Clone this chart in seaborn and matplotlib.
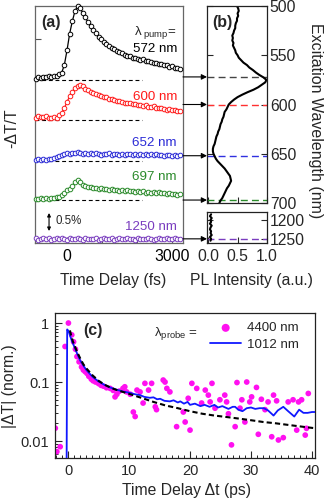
import numpy as np
import pandas as pd
import matplotlib
matplotlib.use("Agg")
import matplotlib.pyplot as plt
import seaborn as sns
from matplotlib.ticker import MultipleLocator, LogLocator, NullFormatter, FixedLocator

sns.set_style("ticks")
plt.rcParams["font.family"] = ["Liberation Sans", "DejaVu Sans"]
plt.rcParams["mathtext.fontset"] = "custom"
plt.rcParams["mathtext.rm"] = "Liberation Sans"
plt.rcParams["mathtext.it"] = "Liberation Sans:italic"
plt.rcParams["mathtext.bf"] = "Liberation Sans:bold"

# ---------------- data: panel (a) ----------------
time_fs = [-900, -825, -750, -675, -600, -525, -450, -375,
           -300, -225, -150, -75, 0, 75, 150, 225,
           300, 375, 450, 525, 600, 675, 750, 825,
           900, 975, 1050, 1125, 1200, 1275, 1350, 1425,
           1500, 1575, 1650, 1725, 1800, 1875, 1950, 2025,
           2100, 2175, 2250, 2325, 2400, 2475, 2550, 2625,
           2700, 2775, 2850, 2925, 3000, 3075, 3150, 3225]

dt_572 = [0.03, 0.07, 0.05, 0.09, 0.07, 0.11, 0.09, 0.12,
          0.11, 0.15, 0.20, 0.42, 0.82, 1.28, 1.62, 1.90,
          2.05, 2.00, 1.86, 1.74, 1.60, 1.50, 1.38, 1.30,
          1.20, 1.14, 1.06, 1.00, 0.95, 0.88, 0.86, 0.80,
          0.76, 0.74, 0.70, 0.66, 0.66, 0.60, 0.62, 0.58,
          0.55, 0.58, 0.52, 0.52, 0.49, 0.47, 0.47, 0.44,
          0.43, 0.41, 0.40, 0.37, 0.38, 0.34, 0.33, 0.31]
dt_600 = [0.06, 0.10, 0.08, 0.07, 0.10, 0.04, 0.05, 0.08,
          0.06, 0.12, 0.20, 0.33, 0.50, 0.65, 0.78, 0.88,
          0.95, 0.97, 0.93, 0.86, 0.82, 0.78, 0.74, 0.72,
          0.69, 0.66, 0.63, 0.62, 0.58, 0.57, 0.54, 0.52,
          0.52, 0.49, 0.48, 0.46, 0.47, 0.43, 0.44, 0.41,
          0.40, 0.38, 0.40, 0.36, 0.35, 0.37, 0.33, 0.32,
          0.34, 0.30, 0.28, 0.30, 0.26, 0.27, 0.24, 0.25]
dt_652 = [0.02, 0.04, 0.03, 0.05, 0.03, 0.06, 0.04, 0.07,
          0.10, 0.14, 0.17, 0.20, 0.22, 0.20, 0.23, 0.21,
          0.24, 0.22, 0.20, 0.23, 0.19, 0.21, 0.18, 0.21,
          0.19, 0.17, 0.20, 0.18, 0.21, 0.17, 0.19, 0.20,
          0.16, 0.19, 0.17, 0.20, 0.18, 0.16, 0.19, 0.17,
          0.20, 0.16, 0.18, 0.15, 0.18, 0.16, 0.19, 0.15,
          0.17, 0.14, 0.17, 0.15, 0.13, 0.16, 0.14, 0.17]
dt_697 = [0.03, 0.02, 0.05, 0.03, 0.06, 0.04, 0.07, 0.05,
          0.08, 0.10, 0.14, 0.20, 0.28, 0.32, 0.40, 0.50,
          0.56, 0.50, 0.42, 0.38, 0.36, 0.37, 0.33, 0.34,
          0.31, 0.33, 0.30, 0.31, 0.28, 0.30, 0.27, 0.29,
          0.26, 0.28, 0.25, 0.27, 0.24, 0.26, 0.23, 0.25,
          0.22, 0.24, 0.21, 0.23, 0.21, 0.22, 0.20, 0.22,
          0.19, 0.21, 0.18, 0.20, 0.17, 0.18, 0.15, 0.16]
dt_1250 = [0.02, -0.02, 0.01, 0.03, -0.01, 0.02, -0.02, 0.01,
           0.03, -0.01, 0.02, 0.00, -0.02, 0.02, 0.01, -0.01,
           0.03, 0.00, -0.02, 0.02, 0.01, -0.01, 0.00, 0.02,
           -0.02, 0.01, 0.03, -0.01, 0.00, 0.02, -0.02, 0.01,
           0.02, -0.01, 0.00, 0.03, -0.01, 0.01, -0.02, 0.02,
           0.00, 0.01, -0.01, 0.03, 0.00, -0.02, 0.01, 0.02,
           -0.01, 0.00, 0.02, -0.01, 0.01, 0.03, 0.00, 0.01]

pump_wl = [572, 600, 652, 697, 1250]
pump_labels = ["572 nm", "600 nm", "652 nm", "697 nm", "1250 nm"]

# ---------------- data: panel (b) ----------------
pl_wl = [500, 502.5, 505, 507.5, 510, 512.5, 515, 517.5, 520, 522.5,
         525, 527.5, 530, 532.5, 535, 537.5, 540, 542.5, 545, 547.5,
         550, 552.5, 555, 557.5, 560, 562.5, 565, 567.5, 570, 572.5,
         575, 577.5, 580, 582.5, 585, 587.5, 590, 592.5, 595, 597.5,
         600, 602.5, 605, 607.5, 610, 612.5, 615, 617.5, 620, 622.5,
         625, 627.5, 630, 632.5, 635, 637.5, 640, 642.5, 645, 647.5,
         650, 652.5, 655, 657.5, 660, 662.5, 665, 667.5, 670, 672.5,
         675, 677.5, 680, 682.5, 685, 687.5, 690, 692.5, 695, 697.5, 700]
pl_int = [0.49, 0.51, 0.52, 0.50, 0.51, 0.49, 0.49, 0.47, 0.46, 0.46,
          0.44, 0.43, 0.41, 0.42, 0.41, 0.43, 0.42, 0.44, 0.46, 0.47,
          0.50, 0.52, 0.56, 0.60, 0.66, 0.70, 0.76, 0.81, 0.87, 0.94,
          0.99, 0.97, 0.91, 0.85, 0.77, 0.67, 0.58, 0.50, 0.44, 0.39,
          0.35, 0.33, 0.31, 0.28, 0.27, 0.26, 0.24, 0.23, 0.21, 0.20,
          0.19, 0.17, 0.16, 0.14, 0.13, 0.12, 0.11, 0.09, 0.08, 0.08,
          0.09, 0.11, 0.13, 0.16, 0.20, 0.24, 0.28, 0.31, 0.34, 0.37,
          0.38, 0.39, 0.37, 0.35, 0.32, 0.30, 0.28, 0.26, 0.24, 0.21, 0.19]
pl_wl_ir = [1185, 1190, 1195, 1200, 1205, 1210, 1215, 1220, 1225, 1230, 1235,
            1240, 1245, 1250, 1255]
pl_int_ir = [0.05, 0.03, 0.06, 0.04, 0.05, 0.03, 0.06, 0.04, 0.03, 0.05, 0.04,
             0.06, 0.03, 0.05, 0.04]

# ---------------- data: panel (c) ----------------
mag_t = [-2.1, -1.85, -1.3, -0.5, 0.05, 0.6, 0.9, 1.2, 1.45, 1.8, 2.2, 2.5, 2.8,
         3.1, 3.4, 3.8, 4.1, 4.5, 5.0, 5.4, 5.8, 6.3, 6.9, 7.4, 7.7, 8.0, 8.4,
         9.0, 9.3, 9.6, 10.2, 10.7, 11.0, 11.3, 11.8, 12.3, 12.6, 13.2, 13.7,
         14.3, 14.5, 15.6, 15.9, 16.2, 16.7, 17.8, 18.9, 19.2, 19.7, 20.0, 20.3,
         21.1, 21.9, 22.5, 23.0, 23.3, 23.6, 24.1, 24.9, 25.7, 26.0, 26.3, 26.8,
         27.4, 27.7, 28.2, 28.5, 29.0, 29.3, 29.8, 30.1, 30.9, 31.2, 31.7, 32.3,
         32.8, 33.4, 33.7, 34.2, 34.5, 35.3, 36.1, 36.9, 37.5, 37.8, 38.3, 38.9,
         39.1, 39.4]
mag_v = [0.0165, 0.0066, 0.008, 0.40, 1.0, 0.63, 0.48, 0.36, 0.27, 0.22, 0.18,
         0.16, 0.15, 0.14, 0.125, 0.112, 0.105, 0.10, 0.094, 0.088, 0.085, 0.080,
         0.078, 0.072, 0.056, 0.062, 0.070, 0.078, 0.083, 0.068, 0.062, 0.031,
         0.026, 0.073, 0.068, 0.044, 0.095, 0.073, 0.095, 0.038, 0.034, 0.108,
         0.10, 0.078, 0.068, 0.0175, 0.031, 0.021, 0.053, 0.0153, 0.095, 0.078,
         0.044, 0.073, 0.060, 0.046, 0.095, 0.036, 0.050, 0.060, 0.046, 0.029,
         0.0086, 0.0175, 0.098, 0.036, 0.050, 0.021, 0.10, 0.046, 0.056, 0.081,
         0.013, 0.051, 0.034, 0.046, 0.0118, 0.060, 0.048, 0.0104, 0.0114, 0.046,
         0.050, 0.0153, 0.046, 0.050, 0.0126, 0.0164, 0.064]

blue_t = [-0.25, -0.15, 0.1, 0.3, 0.6, 1.0, 1.5, 2.0, 2.5, 3.0, 3.5, 4.0, 5.0,
          6.0, 7.0, 8.0, 9.0, 10.0, 11.0, 11.8, 12.5, 13.4, 14.0, 14.6, 15.1,
          15.8, 16.7, 17.3, 18.0, 18.4, 19.0, 19.6, 20.0, 20.8, 21.7, 22.4, 23.2,
          24.0, 24.6, 25.3, 26.3, 27.0, 27.4, 27.9, 28.6, 29.3, 30.0, 30.7, 31.4,
          32.1, 32.8, 33.7, 34.4, 35.3, 36.1, 37.1, 37.9, 38.6, 39.3, 40.0, 40.6]
blue_v = [0.003, 0.78, 0.72, 0.62, 0.50, 0.40, 0.30, 0.23, 0.19, 0.16, 0.14,
          0.123, 0.102, 0.089, 0.080, 0.074, 0.069, 0.066, 0.062, 0.060, 0.056,
          0.054, 0.055, 0.051, 0.052, 0.048, 0.047, 0.049, 0.045, 0.047, 0.043,
          0.046, 0.041, 0.043, 0.039, 0.041, 0.038, 0.041, 0.037, 0.039, 0.035,
          0.038, 0.038, 0.034, 0.032, 0.036, 0.037, 0.035, 0.036, 0.036, 0.033,
          0.027, 0.033, 0.038, 0.032, 0.026, 0.034, 0.030, 0.030, 0.031, 0.031]

fit_t = [0.3, 0.5, 0.75, 1, 1.5, 2, 2.5, 3, 4, 5, 6, 7, 8, 10, 12, 14, 16, 18,
         20, 22, 24, 26, 28, 30, 32, 34, 36, 38, 40, 41]
fit_v = [0.75, 0.62, 0.50, 0.43, 0.32, 0.25, 0.20, 0.17, 0.13, 0.105, 0.09,
         0.08, 0.073, 0.063, 0.054, 0.046, 0.040, 0.036, 0.032, 0.029, 0.027,
         0.0255, 0.024, 0.0225, 0.021, 0.020, 0.0188, 0.0177, 0.0167, 0.0163]

# ---------------- layout helpers ----------------
W, H = 327, 501
fig = plt.figure(figsize=(W / 100, H / 100), dpi=100)


def box(l, t, r, b):
    return [l / W, 1 - b / H, (r - l) / W, (b - t) / H]


def ftxt(x, y, s, **kw):
    fig.text(x / W, 1 - y / H, s, **kw)


colors = ["black", "#ff1a1a", "#2a2ad6", "#2a8a2a", "#7a3dbf"]
dash_colors = ["#444444", "#ff3030", "#3030e0", "#2a8a2a", "#7a3dbf"]
offsets = [4.53, 3.42, 2.28, 1.19, 0.11]   # vertical stacking of traces

# ---------------- panel (a) ----------------
ax_a = fig.add_axes(box(35, 6, 183, 243))
series = [dt_572, dt_600, dt_652, dt_697, dt_1250]
for vals, col, off in zip(series, colors, offsets):
    df = pd.DataFrame({"t": time_fs, "v": np.array(vals) + off})
    ax_a.plot([-915, 2140], [off, off], color="black", lw=0.8,
              ls=(0, (3.5, 2.5)), zorder=1)
    sns.lineplot(data=df, x="t", y="v", ax=ax_a, color=col, lw=0.9,
                 marker="o", markersize=3.3, markerfacecolor="white",
                 markeredgecolor=col, markeredgewidth=0.7,
                 estimator=None, sort=False, zorder=3, clip_on=False)
ax_a.set_xlim(-915, 3315)
ax_a.set_ylim(0, 6.58)
ax_a.set_xlabel("")
ax_a.set_ylabel("")
ax_a.set_xticks([0, 1000, 2000, 3000])
ax_a.set_xticklabels(["0", "", "", "3000"])
ax_a.set_yticks([5.67])
ax_a.set_yticklabels([])
ax_a.tick_params(direction="in", length=4, width=0.8, labelsize=11.3, pad=4,
                 colors="#555555", labelcolor="black")
for sp in ax_a.spines.values():
    sp.set_color("#666666")
    sp.set_linewidth(0.9)

# scale bar 0.5 %
ax_a.annotate("", xy=(-514, 0.333), xytext=(-514, 0.833),
              arrowprops=dict(arrowstyle="<|-|>", lw=0.8, color="black",
                              mutation_scale=5, shrinkA=0, shrinkB=0))
ftxt(56, 221, "0.5%", fontsize=8.3, va="center", ha="left")

ftxt(41, 23, "(a)", fontsize=11.5, fontweight="bold", va="center")
ftxt(176, 33, r"λ$_{\rm\ pump}$=", fontsize=9.6, va="center", ha="right")
label_y = [49, 97, 143, 177, 227]
for lab, col, ly in zip(pump_labels, colors, label_y):
    ftxt(177, ly, lab, fontsize=9.6, color=col, va="center", ha="right")

ftxt(12, 128, "-ΔT/T", fontsize=11.3, rotation=90, va="center", ha="center")
ftxt(113, 280, "Time Delay (fs)", fontsize=11.3, va="center", ha="center")

# ---------------- panel (b) ----------------
ax_b = fig.add_axes(box(207, 6, 267, 203))
ax_b2 = fig.add_axes(box(207, 212, 267, 243))
sns.lineplot(x=pl_int, y=pl_wl, ax=ax_b, color="black", lw=1.5,
             sort=False, estimator=None)
sns.lineplot(x=pl_int_ir, y=pl_wl_ir, ax=ax_b2, color="black", lw=1.5,
             sort=False, estimator=None)
ax_b.set_ylim(700, 500)
ax_b2.set_ylim(1261, 1179)
for ax in (ax_b, ax_b2):
    ax.set_xlim(-0.02, 1.0)
    ax.set_xlabel("")
    ax.set_ylabel("")
    ax.set_xticks([0, 0.5, 1.0])
    ax.yaxis.tick_right()
    ax.tick_params(direction="in", length=4, width=0.8, labelsize=11.3,
                   left=True, right=True, labelleft=False, labelright=True,
                   pad=2)
    for sp in ax.spines.values():
        sp.set_color("#222222")
        sp.set_linewidth(0.9)
ax_b.set_xticklabels([])
ax_b.set_yticks([500, 550, 600, 650, 700])
ax_b2.set_yticks([1200, 1250])
ax_b2.set_xticklabels(["0.0", "0.5", "1.0"])
ax_b2.tick_params(axis="x", pad=4)

for wl, dc in zip(pump_wl, dash_colors):
    target = ax_b if wl < 1000 else ax_b2
    target.axhline(wl, color=dc, lw=1.0, ls=(0, (5, 3)), zorder=1)
    target.annotate("", xy=(0, wl), xycoords=target.get_yaxis_transform(),
                    xytext=(-0.4, wl), textcoords=target.get_yaxis_transform(),
                    arrowprops=dict(arrowstyle="-|>", lw=0.8, color="black",
                                    mutation_scale=8, shrinkA=0, shrinkB=0),
                    annotation_clip=False)

ftxt(212, 23, "(b)", fontsize=11.5, fontweight="bold", va="center")
ftxt(316, 121, "Excitation Wavelength (nm)", fontsize=11.5, rotation=270,
     va="center", ha="center")
ftxt(251, 280, "PL Intensity (a.u.)", fontsize=11.3, va="center", ha="center")

# ---------------- panel (c) ----------------
ax_c = fig.add_axes(box(55, 313, 315, 458))
sns.scatterplot(x=mag_t, y=mag_v, ax=ax_c, color="#ff10f0", s=17,
                edgecolor="none", label="4400 nm", zorder=2)
sns.lineplot(x=blue_t, y=blue_v, ax=ax_c, color="#1018ff", lw=1.3,
             sort=False, estimator=None, label="1012 nm", zorder=3)
sns.lineplot(x=fit_t, y=fit_v, ax=ax_c, color="black", lw=1.5,
             ls=(0, (2.5, 1.5)), sort=False, estimator=None, zorder=4)
ax_c.set_yscale("log")
ax_c.set_xlim(-2.15, 40.5)
ax_c.set_ylim(0.00515, 1.48)
ax_c.set_xlabel("")
ax_c.set_ylabel("")
ax_c.xaxis.set_major_locator(MultipleLocator(10))
ax_c.xaxis.set_minor_locator(MultipleLocator(1))
ax_c.yaxis.set_major_locator(FixedLocator([0.01, 0.1, 1]))
ax_c.set_yticklabels(["0.01", "0.1", "1"])
ax_c.yaxis.set_minor_locator(LogLocator(base=10, subs=np.arange(2, 10)))
ax_c.yaxis.set_minor_formatter(NullFormatter())
ax_c.tick_params(which="major", direction="in", length=5, width=0.8,
                 labelsize=10.5, pad=4)
ax_c.tick_params(which="minor", direction="in", length=2.5, width=0.7)
for sp in ax_c.spines.values():
    sp.set_color("#222222")
    sp.set_linewidth(0.9)

handles, labels = ax_c.get_legend_handles_labels()
leg = ax_c.legend(handles[:2], labels[:2], loc="upper left",
                  bbox_to_anchor=((210 - 55) / 260, 1 - (322 - 313) / 145),
                  frameon=False, fontsize=9.6, handlelength=2.35,
                  handletextpad=0.45, labelspacing=0.3, borderpad=0,
                  borderaxespad=0, markerscale=1.4)
ftxt(176, 333, r"λ$_{\rm probe}$ =", fontsize=9.6, va="center", ha="center")
ftxt(83, 330, "(c)", fontsize=11.5, fontweight="bold", va="center")
ftxt(10, 386, "|ΔT| (norm.)", fontsize=11.3, rotation=90, va="center",
     ha="center")
ftxt(186, 491, "Time Delay Δt (ps)", fontsize=11.3, va="center", ha="center")

fig.savefig("out.png", dpi=100)
